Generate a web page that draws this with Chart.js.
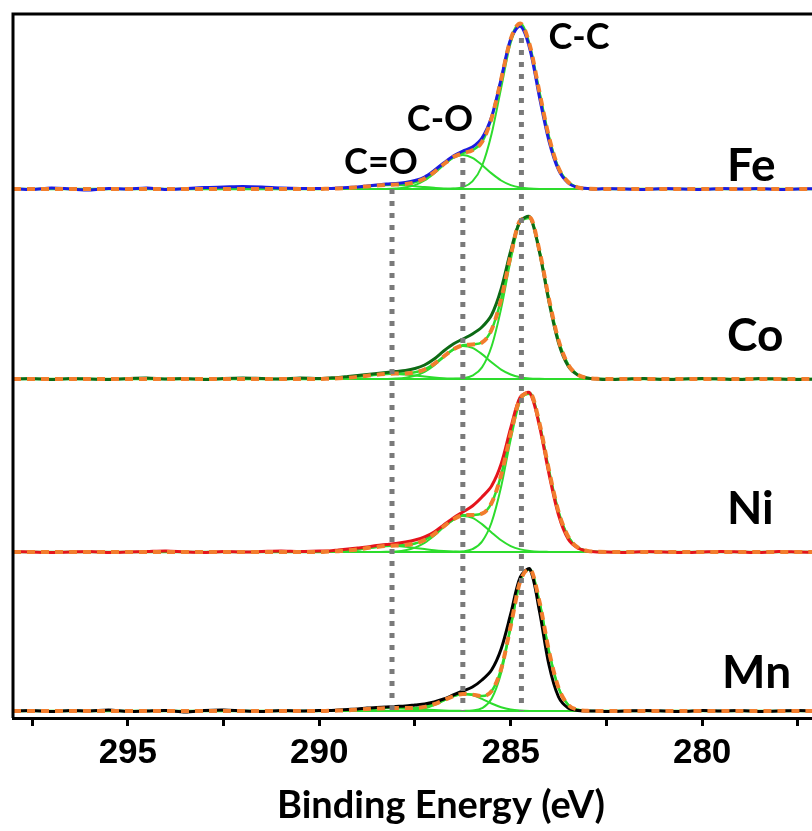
<!DOCTYPE html>
<html><head><meta charset="utf-8">
<script src="https://cdn.jsdelivr.net/npm/chart.js@4.4.1/dist/chart.umd.min.js"></script>
<style>html,body{margin:0;padding:0;background:#fff;overflow:hidden}canvas{display:block}</style>
</head><body>
<canvas id="c" width="812" height="831"></canvas>
<script>
// ---------- DATA ----------
const energy = [298,297.5,297,296.5,296,295.5,295,294.5,294,293.5,293,292.5,292,291.5,291,290.5,290,
 289.75,289.5,289.25,289,288.75,288.5,288.25,288,287.75,287.5,287.25,287,286.75,286.5,286.25,286,285.75,285.5,285.25,285,284.75,284.5,284.25,284,283.75,283.5,283.25,283,282.75,
 282.5,282,281.5,281,280.5,280,279.5,279,278.5,278,277.5,277];
const peakEnergy = [289.75,289.5,289.25,289,288.75,288.5,288.25,288,287.75,287.5,287.25,287,286.75,286.5,286.25,286,285.75,285.5,285.25,285,284.75,284.5,284.25,284,283.75,283.5,283.25,283,282.75];

const samples = ['Fe','Co','Ni','Mn'];
const offsets = [529, 339, 166, 7];

const rawFe = [0.5,-0.5,1,0,-1,0.5,0,1,-0.5,0.5,1.5,2,2.5,2,1,0.5,0.5,
 0.5,1,1.5,2,3,4,5,5.5,6.5,8.5,12,18.5,26,33,38,42,51,72,110,150,163,140,92,48,19,6,1.5,0.5,0,
 0.5,0,-0.5,0.5,0,-0.5,0.5,0,0.5,-0.5,0,0.5];
const fitFe = [0,0,0,0,0,0,0,0,0,0,0,0,0,0,0,0,0,
 0.3,0.5,1.0,1.8,2.6,3.4,4.0,4.5,5.0,6.7,10.4,16.8,24.7,31.9,35.9,38.8,47,70.6,109.5,149.9,165.5,143.5,97.1,52,21,7,1.7,0.3,0,
 0,0,0,0,0,0,0,0,0,0,0,0];
const ccFe = [0,0,0,0,0,0,0,0,0,0,0,0,0.1,0.4,1.9,7.6,23,55,101,146,164,143,97,52,21,7,1.7,0.3,0];
const coFe = [0,0,0,0,0,0,0.1,0.5,1.5,3.9,8.5,15.6,24,31.2,34,31.2,24,15.6,8.5,3.9,1.5,0.5,0.1,0,0,0,0,0,0];
const cdoFe = [0.3,0.5,1.0,1.8,2.6,3.4,3.9,4.0,3.5,2.8,1.9,1.2,0.6,0.3,0.1,0,0,0,0,0,0,0,0,0,0,0,0,0,0];

const rawCo = [0,0.5,-0.5,0.5,0,-0.5,0.5,1,0,0.5,-0.5,0.5,1,0.5,0,1,0.5,
 1,1.5,2.5,3.5,4.5,5.5,6.5,7.5,8.5,10.5,14,20,28,35,40,45,52,64,90,128,158,162,127,77,36,13,4,1,0,
 -0.5,0,0.5,-0.5,0,0.5,0,-0.5,0.5,0,-0.5,0];
const fitCo = [0,0,0,0,0,0,0,0,0,0,0,0,0,0,0,0,0,
 0.3,0.7,1.3,2.2,3.3,4.3,5.0,5.4,5.6,6.7,9.5,15.1,22.5,29.6,33.7,34.5,36.5,49.2,79.8,123.5,158.6,161.4,128.6,79.8,38.7,14.6,4.3,1,0.2,
 0,0,0,0,0,0,0,0,0,0,0,0];
const ccCo = [0,0,0,0,0,0,0,0,0,0,0,0,0,0.1,0.7,3.3,11.6,32.5,70.4,119,156.8,160.8,128.4,79.8,38.7,14.6,4.3,1,0.2];
const coCo = [0,0,0,0,0,0,0.1,0.4,1.2,3.2,7.1,13.6,21.7,29.1,32.9,31.2,24.9,16.7,9.4,4.5,1.8,0.6,0.2,0,0,0,0,0,0];
const cdoCo = [0.3,0.7,1.3,2.2,3.3,4.3,4.9,5.0,4.4,3.5,2.4,1.5,0.8,0.4,0.1,0,0,0,0,0,0,0,0,0,0,0,0,0,0];

const rawNi = [0.5,0,-0.5,0,0.5,-0.5,0,0.5,1,0,-0.5,0.5,0,0.5,1,0.5,1,
 1,2,3,4,5,6.5,7.5,8.5,10,12,15,20,27,34,40,46,55,66,88,124,155,159,126,78,37,13,4,1,0,
 0,-0.5,0.5,0,-0.5,0,0.5,0,-0.5,0.5,0,-0.5];
const fitNi = [0,0,0,0,0,0,0,0,0,0,0,0,0,0,0,0,0,
 0.4,0.8,1.6,2.6,3.9,5.1,6.1,6.5,7.1,8.5,12.0,17.9,25.6,32.7,36.7,37.0,38.3,49.0,76.9,118.4,153.6,159,129,81.7,40.3,15.5,4.6,1.1,0.2,
 0,0,0,0,0,0,0,0,0,0,0,0];
const ccNi = [0,0,0,0,0,0,0,0,0,0,0,0,0,0.1,0.6,2.8,10.4,29.5,65.2,112.5,151,158,128.7,81.6,40.3,15.5,4.6,1.1,0.2];
const coNi = [0,0,0,0,0,0,0.2,0.6,1.8,4.4,9.1,16.2,24.7,32.2,35.9,34.2,27.9,19.5,11.7,5.9,2.6,1.0,0.3,0.1,0,0,0,0,0];
const cdoNi = [0.4,0.8,1.6,2.6,3.9,5.1,5.9,5.9,5.3,4.1,2.9,1.7,0.9,0.4,0.2,0,0,0,0,0,0,0,0,0,0,0,0,0,0];

const rawMn = [0,0.5,-0.5,0.5,0,1,-0.5,0,0.5,-1,0.5,1,0,-0.5,0.5,0,0.5,
 0.5,1,1.5,2,3,3.5,4,4.5,5,6,7,9,12,16,20,24,31,41,62,97,134,142,100,46,14,3,0.5,0,0,
 -0.5,0,0.5,0,-0.5,0.5,0,0.5,-0.5,0,0.5,0];
const fitMn = [0,0,0,0,0,0,0,0,0,0,0,0,0,0,0,0,0,
 0.2,0.4,0.8,1.4,2.0,2.6,2.9,3.1,2.9,3.1,4.1,6.8,10.8,14.8,17.1,16.4,14.9,19.8,41.9,85,129.9,141.7,109.5,59.8,23.1,6.3,1.2,0.2,0,
 0,0,0,0,0,0,0,0,0,0,0,0];
const ccMn = [0,0,0,0,0,0,0,0,0,0,0,0,0,0,0.1,0.5,2.8,12.3,38.1,83.5,129.4,141.6,109.5,59.8,23.1,6.3,1.2,0.2,0];
const coMn = [0,0,0,0,0,0,0,0.1,0.3,1.0,2.7,5.9,10.3,14.6,16.9,15.9,12.1,7.5,3.8,1.5,0.5,0.1,0,0,0,0,0,0,0];
const cdoMn = [0.2,0.4,0.8,1.4,2.0,2.6,2.9,3.0,2.6,2.1,1.4,0.9,0.5,0.2,0.1,0,0,0,0,0,0,0,0,0,0,0,0,0,0];

const markerNames = ['C=O','C-O','C-C'];
const markerEnergy = [288.1, 286.25, 284.72];
const markerTop = [529, 560, 680];
const markerBottom = 7;

const tickValues = [297.5,295,292.5,290,287.5,285,282.5,280,277.5];
const tickLabels = ['','295','','290','','285','','280',''];
const xTitle = 'Binding Energy (eV)';

// ---------- STYLE ----------
const rawColors = ['#1b1be0','#0c6a14','#e5141c','#000000'];
const GREEN = 'rgb(45,220,45)';
const ORANGE = 'rgb(242,125,45)';
const GRAY = '#7a7a7a';

const raws = [rawFe, rawCo, rawNi, rawMn];
const fits = [fitFe, fitCo, fitNi, fitMn];
const ccs = [ccFe, ccCo, ccNi, ccMn];
const cos = [coFe, coCo, coNi, coMn];
const cdos = [cdoFe, cdoCo, cdoNi, cdoMn];

const datasets = [];
function pts(xs, ys, off){ return xs.map((e,i)=>({x:e, y:ys[i]+off})); }

markerEnergy.forEach((e,i)=>{
  datasets.push({data:[{x:e,y:markerTop[i]},{x:e,y:markerBottom}], borderColor:GRAY, borderWidth:5,
    borderDash:[5,7], borderCapStyle:'butt', order:0});
});
samples.forEach((s,k)=>{
  const off = offsets[k];
  datasets.push({data:pts(energy, fits[k], off), borderColor:ORANGE, borderWidth:4, borderDash:[8,6], cubicInterpolationMode:'monotone', order:1});
  datasets.push({data:pts(energy, raws[k], off), borderColor:rawColors[k], borderWidth:3, tension:0.3, order:2});
  datasets.push({data:pts(energy, fits[k], off), borderColor:GREEN, borderWidth:2.5, cubicInterpolationMode:'monotone', order:3});
  [ccs[k], cos[k], cdos[k]].forEach(c=>{
    datasets.push({data:pts(peakEnergy, c, off), borderColor:GREEN, borderWidth:2, cubicInterpolationMode:'monotone', order:3});
  });
  datasets.push({data:[{x:peakEnergy[0],y:off},{x:peakEnergy[peakEnergy.length-1],y:off}], borderColor:GREEN, borderWidth:2, order:3});
});

// label layout (pixels)
const markerLabelPos = [[381,162],[440,119],[579,37]];
const sampleLabelPos = [[727,166],[727,336],[727,509],[722,673]];

const decor = {
  id:'decor',
  afterDraw(chart){
    const {ctx, chartArea:a} = chart;
    ctx.save();
    ctx.strokeStyle='#000'; ctx.lineWidth=3;
    ctx.beginPath(); ctx.moveTo(a.left, a.bottom); ctx.lineTo(a.left, a.top); ctx.lineTo(a.right+5, a.top); ctx.stroke();
    ctx.fillStyle='#000';
    ctx.textBaseline='middle';
    ctx.font='bold 36px Lato';
    ctx.textAlign='center';
    markerNames.forEach((t,i)=>ctx.fillText(t, markerLabelPos[i][0], markerLabelPos[i][1]));
    ctx.font='bold 46px Lato';
    ctx.textAlign='left';
    samples.forEach((t,i)=>ctx.fillText(t, sampleLabelPos[i][0], sampleLabelPos[i][1]));
    ctx.font='bold 38px Lato';
    ctx.textAlign='center';
    ctx.fillText(xTitle, 441, 806);
    ctx.restore();
  }
};

new Chart(document.getElementById('c'), {
  type:'line',
  data:{datasets},
  options:{
    responsive:false, animation:false, devicePixelRatio:1,
    layout:{padding:{left:13, top:14, right:0, bottom:0}},
    plugins:{legend:{display:false}, tooltip:{enabled:false}},
    elements:{point:{radius:0}},
    scales:{
      x:{type:'linear', reverse:true, min:277.13, max:298.0,
        afterBuildTicks: s => { s.ticks = tickValues.map(v=>({value:v})); },
        afterFit: s => { s.height = 113; },
        ticks:{autoSkip:false, maxRotation:0, padding:6, color:'#000',
          font:{family:'Liberation Sans', weight:'bold', size:35},
          callback:(v)=>{ const i = tickValues.indexOf(v); return i>=0 ? tickLabels[i] : ''; }},
        grid:{drawOnChartArea:false, drawTicks:true, tickLength:8, tickWidth:3, tickColor:'#000'},
        border:{display:true, color:'#000', width:3}
      },
      y:{type:'linear', display:false, min:0, max:704}
    }
  },
  plugins:[decor]
});
</script>
</body></html>
